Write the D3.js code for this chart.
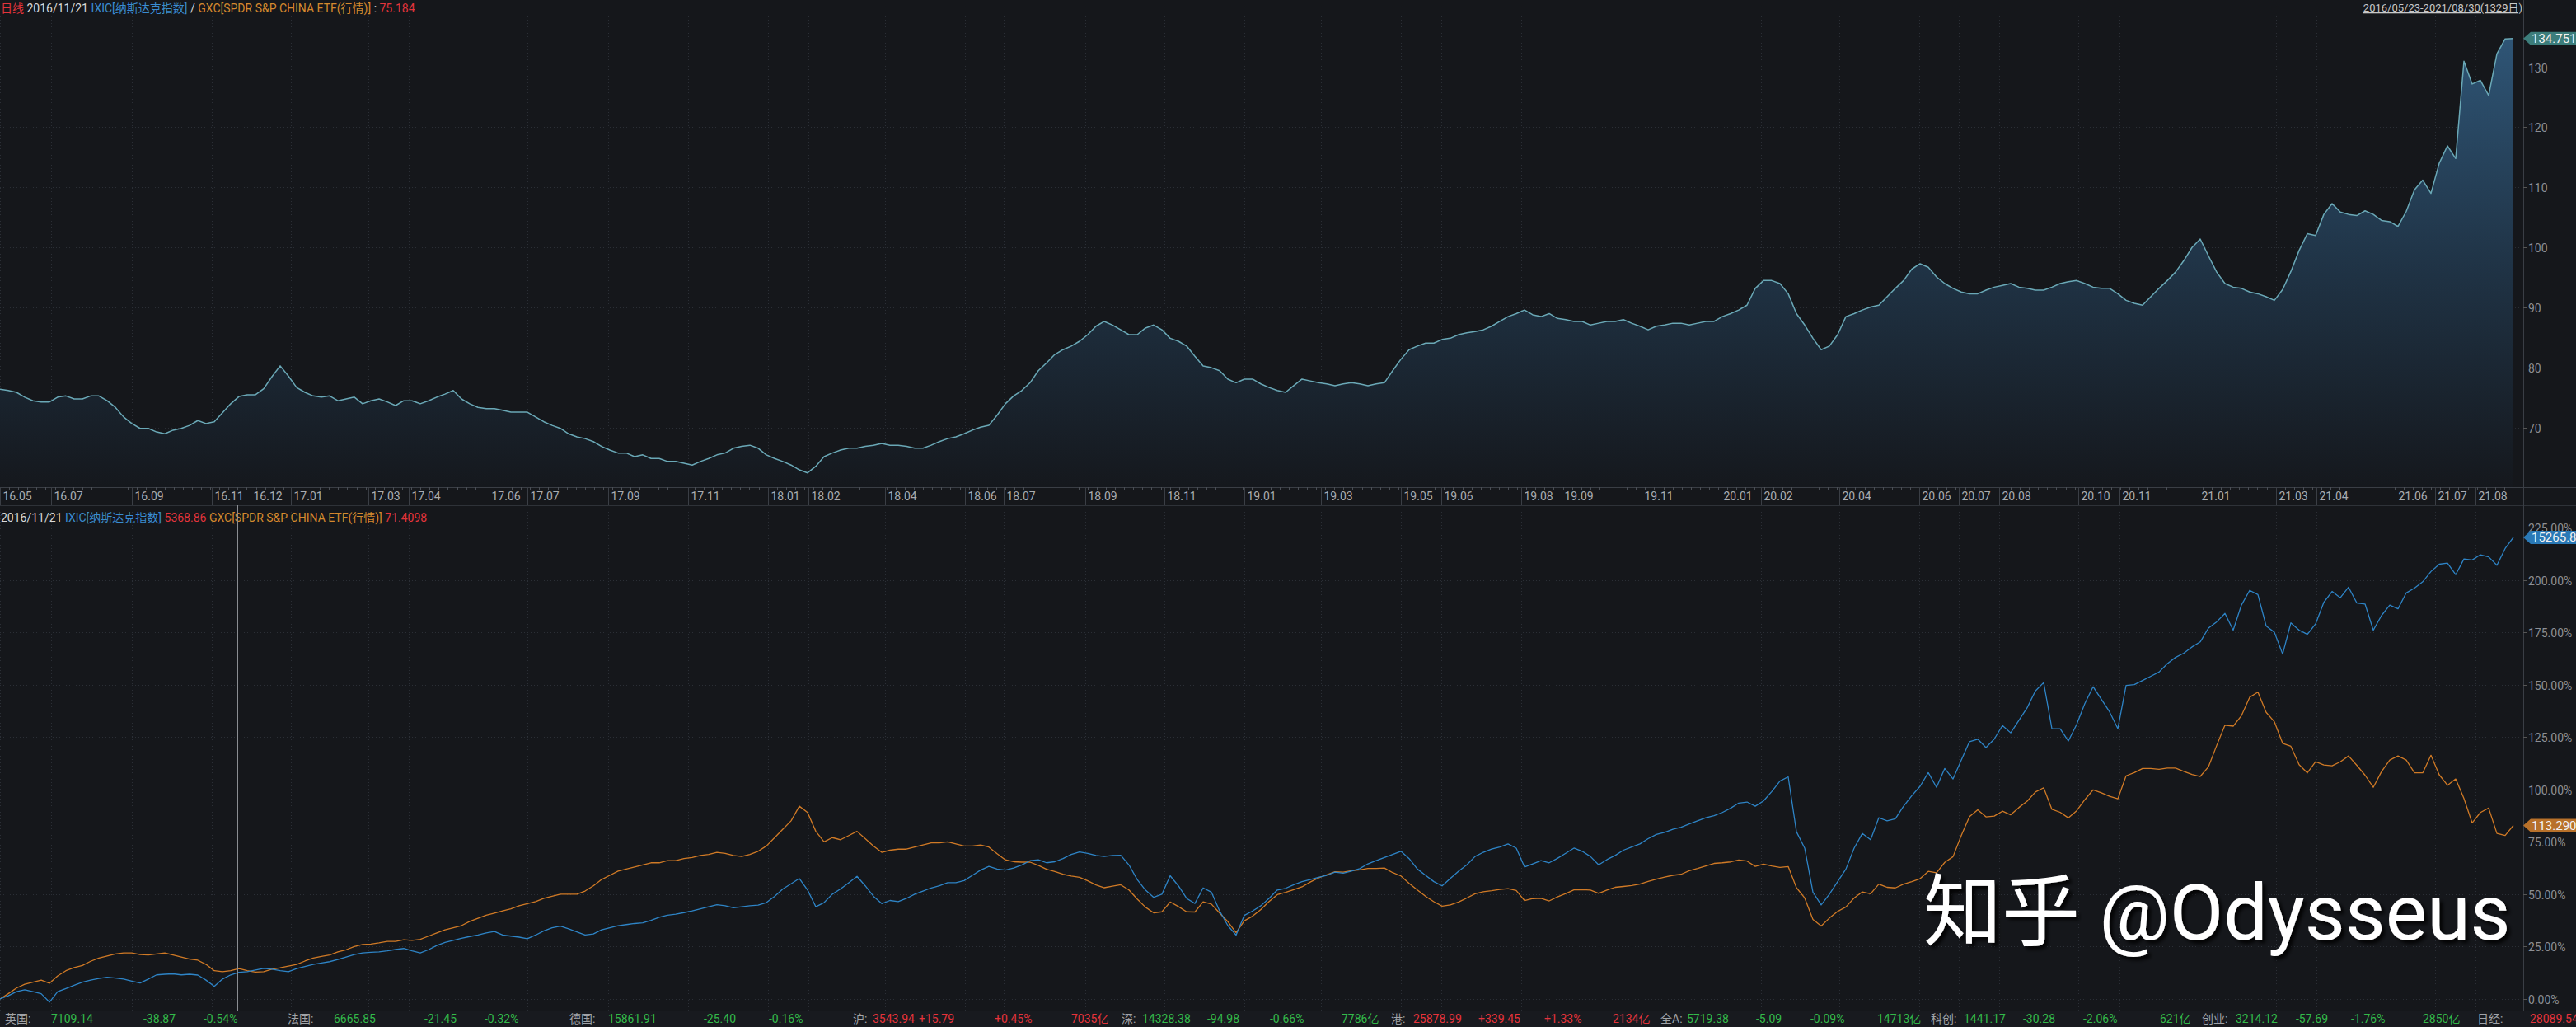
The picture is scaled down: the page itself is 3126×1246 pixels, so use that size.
<!DOCTYPE html>
<html><head><meta charset="utf-8">
<script src="https://cdn.jsdelivr.net/npm/d3@7"></script>
<style>
html,body{margin:0;padding:0;background:#15171b;overflow:hidden;}
svg{display:block;}
text{font-family:Roboto,"Noto Sans CJK SC",sans-serif;}
</style></head><body>
<svg id="chart" width="3126" height="1246"></svg>
<script>
// ---------------- DATA ----------------
const startDate = "2016-05-23";
const endDate = "2021-08-30";
const cursorDate = "2016-11-21";
const tickLabels = ["16.05","16.07","16.09","16.11","16.12","17.01","17.03","17.04","17.06","17.07","17.09","17.11",
  "18.01","18.02","18.04","18.06","18.07","18.09","18.11","19.01","19.03","19.05","19.06","19.08","19.09","19.11",
  "20.01","20.02","20.04","20.06","20.07","20.08","20.10","20.11","21.01","21.03","21.04","21.06","21.07","21.08"];
const topTicks = [70,80,90,100,110,120,130];
const bottomTicks = [0,25,50,75,100,125,150,175,200,225];

// IXIC / GXC ratio (evenly spaced samples from 2016/05/23 to 2021/08/30)
const ratioValues = [
76.4,76.2,75.9,75.1,74.5,74.3,74.3,75.1,75.3,74.8,
74.8,75.3,75.3,74.5,73.4,71.8,70.7,69.9,69.9,69.3,
69.0,69.6,69.9,70.4,71.2,70.7,71.0,72.5,74.0,75.2,
75.5,75.5,76.5,78.5,80.3,78.6,76.7,75.9,75.3,75.1,
75.3,74.5,74.8,75.1,74.0,74.5,74.8,74.3,73.7,74.5,
74.5,74.0,74.5,75.1,75.6,76.2,74.8,74.0,73.4,73.2,
73.2,72.9,72.6,72.6,72.6,71.8,71.0,70.4,69.9,69.0,
68.5,68.2,67.7,66.9,66.3,65.8,65.8,65.2,65.5,64.9,
64.9,64.4,64.4,64.1,63.8,64.4,64.9,65.5,65.8,66.6,
66.9,67.1,66.6,65.5,64.9,64.4,63.8,63.0,62.5,63.6,
65.2,65.8,66.3,66.6,66.6,66.9,67.1,67.4,67.1,67.1,
66.9,66.6,66.6,67.1,67.7,68.2,68.5,69.0,69.6,70.1,
70.4,72.1,74.0,75.3,76.2,77.5,79.5,80.8,82.2,83.0,
83.6,84.4,85.5,86.9,87.7,87.1,86.3,85.5,85.5,86.6,
87.1,86.3,84.9,84.4,83.6,81.9,80.3,80.0,79.5,78.1,
77.5,78.1,78.1,77.3,76.7,76.2,75.9,77.0,78.1,77.8,
77.5,77.3,77.0,77.3,77.5,77.3,77.0,77.3,77.5,79.5,
81.4,83.0,83.6,84.1,84.1,84.7,84.9,85.5,85.8,86.0,
86.3,86.9,87.7,88.5,89.0,89.6,88.8,88.5,89.0,88.2,
88.0,87.7,87.7,87.1,87.4,87.7,87.7,88.0,87.4,86.9,
86.3,86.9,87.1,87.4,87.4,87.1,87.4,87.7,87.7,88.5,
89.0,89.6,90.4,93.2,94.5,94.5,94.0,92.3,89.0,87.1,
84.9,83.0,83.6,85.5,88.5,89.0,89.6,90.1,90.4,91.8,
93.2,94.5,96.4,97.3,96.7,95.1,94.0,93.2,92.6,92.3,
92.3,92.9,93.4,93.7,94.0,93.4,93.2,92.9,92.9,93.4,
94.0,94.3,94.5,94.0,93.4,93.2,93.2,92.3,91.2,90.7,
90.4,91.8,93.2,94.5,95.9,97.8,100.0,101.4,98.6,95.9,
94.0,93.4,93.2,92.6,92.3,91.8,91.2,93.0,96.0,99.5,
102.3,102.0,105.5,107.3,105.9,105.5,105.3,106.1,105.5,104.5,
104.3,103.5,106.0,109.6,111.2,109.0,114.0,116.9,114.8,131.0,
127.2,127.8,125.3,132.2,134.7,134.751];

// IXIC cumulative % change
const ixicPct = [
0,1.5,3.5,4.4,3.5,2.5,-1.5,3.5,5.0,6.5,
8.0,9.0,9.8,10.4,10.0,9.5,8.5,7.6,9.5,11.5,
11.8,12.0,11.5,11.8,11.4,9.0,6.0,9.5,11.5,12.7,
13.0,13.8,14.6,14.2,13.5,13.0,14.5,15.5,16.5,17.2,
17.8,18.8,20.0,21.2,22.0,22.3,22.5,23.0,23.6,24.1,
23.0,22.0,23.5,25.5,27.0,28.0,29.0,29.8,30.5,31.5,
32.2,30.5,30.0,29.5,28.8,30.5,32.5,34.0,34.8,33.5,
32.0,30.5,31.0,33.0,34.0,35.0,35.5,36.0,36.3,37.5,
39.0,40.0,40.5,41.2,42.0,43.0,44.0,45.0,44.5,43.5,
44.0,44.5,44.8,46.0,49.0,52.5,55.0,57.5,52.0,44.0,
46.0,50.0,52.5,55.5,58.5,54.0,49.0,45.5,47.0,46.5,
48.0,50.0,51.5,53.0,54.0,55.5,55.5,56.5,59.0,61.5,
63.3,62.0,61.5,62.5,64.0,66.0,66.4,65.0,65.5,67.0,
69.0,70.2,69.5,68.5,68.0,68.5,68.6,64.0,57.0,52.0,
48.5,50.0,58.8,54.0,48.0,45.6,53.0,51.0,42.0,35.0,
30.5,39.9,42.0,44.5,48.0,52.0,52.8,54.5,56.0,57.0,
58.1,59.0,60.5,60.0,61.0,62.2,64.5,66.0,67.5,69.0,
70.5,67.0,62.0,59.0,56.0,54.0,57.5,61.0,64.0,68.0,
70.0,71.5,72.5,74.0,72.0,63.0,64.5,66.0,65.0,67.1,
69.5,72.0,70.5,68.0,64.0,66.5,68.5,71.0,72.5,74.0,
76.5,78.5,79.5,81.0,82.0,83.5,85.0,86.5,87.5,89.0,
91.0,93.5,94.0,92.0,94.5,99.0,104.0,106.0,79.8,72.0,
51.0,44.9,50.0,56.0,62.0,72.0,79.0,76.0,86.5,85.0,
86.0,92.0,97.0,101.5,108.0,101.0,110.0,105.0,114.0,122.8,
124.0,120.0,124.0,130.5,127.0,133.0,139.0,147.0,151.0,129.0,
129.0,123.1,131.0,141.0,149.0,143.0,137.0,129.0,149.6,150.0,
152.0,154.0,156.0,160.0,163.0,165.0,168.0,170.4,177.0,180.0,
184.0,176.0,188.0,195.0,193.0,178.0,175.0,164.6,179.5,176.0,
174.0,179.0,189.3,194.5,191.5,196.5,189.0,188.5,176.0,183.0,
188.0,186.2,193.8,196.1,199.1,204.0,207.5,208.0,202.5,210.0,
209.5,212.0,211.0,207.0,215.0,220.3];

// GXC cumulative % change
const gxcPct = [
0,2.5,5.2,7,8,9,7.5,11,13.5,15,
16,18,19.5,20.5,21.5,22,22,21.2,21,21.5,
22,21,20,19,18.5,16.5,13.5,13,13.5,14.5,
13.5,12.8,13,14.2,14.9,15.7,16.5,18.1,19.5,20.3,
21,22.5,23.5,25,26,26.2,26.8,27.5,27.5,28.3,
28,28.5,30,31.5,33,34,35,37,38.5,40,
41,42,43,44.5,45.5,46.5,48,49,50,50,
50,51.5,54,57,59,61,62,63,64,65,
65,66,66,67,67.5,68.5,69,70,69.5,68.5,
68,69,70.5,73,77,81,85,92,89,80,
75,77,76,78,80,76.5,73,70,71,71.5,
71.5,72.5,73.5,74.5,74.5,75,74,73,73,73.5,
72.5,69.3,66.4,65.5,65.3,65.3,63.8,61.9,60.8,59.5,
58.7,58.1,56.4,54.4,53.1,53.8,54.5,52,47.7,43.8,
41.1,41.6,46.3,44.1,41.6,41.5,46.4,45.3,41,36.9,
31.6,37.3,39.5,42.7,46.5,49.8,50.9,52.2,53.5,55.8,
57.8,59.3,60.7,60.5,61.2,61.6,62.3,62.3,62.5,60.3,
58.7,55.2,52,49,46.4,44.3,44.9,46.3,48.2,50.2,
51.2,51.7,52.3,52.7,51.8,47,47.9,48,46.8,48.7,
50.3,52.1,52.2,52,50.4,52,53.3,53.7,54.1,54.8,
56.1,57.2,58.2,59,59.5,61.2,62.3,63.5,64.7,65,
65.4,66.3,65.8,63.3,64.4,63.5,62.8,63.2,53.1,48.2,
38,34.8,38.6,41.8,43.9,48.2,51.1,50.2,54.8,53.3,
53,54.8,56,57.4,60.9,60.2,65.2,67.9,78,87,
90.3,86.9,87.3,89.6,87.9,91.4,94.4,98.8,100.8,90.5,
89.1,86.4,89.8,95.1,99.8,98.4,96.7,95.5,106.5,108,
110,110,109.6,110.2,110.2,108.6,107.1,106.2,110.8,121,
130.7,130.2,135.2,144,146.4,136.8,132.3,122,120.6,111.8,
107.9,113.2,111.7,111.3,113.2,116,111.5,106.8,101,108.5,
114,116,114,107.9,107.9,116.3,107,102,105,95.7,
84,89,91.1,79,78,82.8];

const lastRatioLabel = "134.751";
const lastIxicLabel = "15265.89";
const lastGxcLabel = "113.2900";

const topHeader = [["日线","#e2343c"],[" 2016/11/21 ","#d8d8d8"],["IXIC[纳斯达克指数]","#3a8cd0"],[" / ","#d8d8d8"],["GXC[SPDR S&P CHINA ETF(行情)]","#d4892e"],[" : ","#d8d8d8"],["75.184","#e2343c"]];
const bottomHeader = [["2016/11/21 ","#d8d8d8"],["IXIC[纳斯达克指数] ","#3a8cd0"],["5368.86 ","#e2343c"],["GXC[SPDR S&P CHINA ETF(行情)] ","#d4892e"],["71.4098","#e2343c"]];
const rangeText = "2016/05/23-2021/08/30(1329日)";

const tickerNames = ["英国:","法国:","德国:","沪:","深:","港:","全A:","科创:","创业:","日经:"];
const tickerPrices = ["7109.14","6665.85","15861.91","3543.94","14328.38","25878.99","5719.38","1441.17","3214.12","28089.54"];
const tickerChanges = ["-38.87","-21.45","-25.40","+15.79","-94.98","+339.45","-5.09","-30.28","-57.69",""];
const tickerPercents = ["-0.54%","-0.32%","-0.16%","+0.45%","-0.66%","+1.33%","-0.09%","-2.06%","-1.76%",""];
const tickerVolumes = ["","","","7035亿","7786亿","2134亿","14713亿","621亿","2850亿",""];

// ---------------- LAYOUT ----------------
const W = 3126, H = 1246;
const plotRight = 3062;
const dataRight = 3050;
const topPlot = {y0: 20, y1: 591};
const axisRow = {y0: 591, y1: 613};
const botPlot = {y0: 613, y1: 1226};
const GREEN = "#33b94a", RED = "#e5333b", GRAY = "#8c8f95";

const svg = d3.select("#chart");
svg.append("rect").attr("width", W).attr("height", H).attr("fill", "#15171b");

const parse = d3.timeParse("%Y-%m-%d");
const t0 = parse(startDate), t1 = parse(endDate);
const x = d3.scaleTime().domain([t0, t1]).range([0, dataRight]);
const n = ratioValues.length;
const dates = d3.range(n).map(i => new Date(+t0 + i * (t1 - t0) / (n - 1)));

const yTop = d3.scaleLinear().domain([70, 130]).range([519, 81.5]);
const yBot = d3.scaleLinear().domain([0, 225]).range([1212, 640]);

const tickDates = tickLabels.map(s => {
  const [yy, mm] = s.split(".").map(Number);
  const d = new Date(2000 + yy, mm - 1, 1);
  return d < t0 ? t0 : d;
});

// defs
const defs = svg.append("defs");
const grad = defs.append("linearGradient").attr("id", "areaGrad")
  .attr("gradientUnits", "userSpaceOnUse").attr("x1", 0).attr("x2", 0).attr("y1", topPlot.y0).attr("y2", topPlot.y1);
grad.append("stop").attr("offset", "0%").attr("stop-color", "#30587a");
grad.append("stop").attr("offset", "55%").attr("stop-color", "#1f3244");
grad.append("stop").attr("offset", "100%").attr("stop-color", "#15181d");
const sh = defs.append("filter").attr("id", "wmShadow").attr("x", "-5%").attr("y", "-20%").attr("width", "115%").attr("height", "150%");
sh.append("feDropShadow").attr("dx", 4).attr("dy", 4).attr("stdDeviation", 2).attr("flood-color", "#000").attr("flood-opacity", 0.85);

// ---------- grids ----------
const grid = svg.append("g").attr("stroke", "#2b2f36").attr("stroke-dasharray", "1,3").attr("stroke-width", 1);
tickDates.forEach(d => {
  const xx = Math.round(x(d)) + 0.5;
  grid.append("line").attr("x1", xx).attr("x2", xx).attr("y1", topPlot.y0).attr("y2", topPlot.y1);
  grid.append("line").attr("x1", xx).attr("x2", xx).attr("y1", botPlot.y0).attr("y2", botPlot.y1);
});
topTicks.forEach(v => {
  const yy = Math.round(yTop(v)) + 0.5;
  grid.append("line").attr("x1", 0).attr("x2", plotRight).attr("y1", yy).attr("y2", yy);
});
bottomTicks.forEach(v => {
  const yy = Math.round(yBot(v)) + 0.5;
  grid.append("line").attr("x1", 0).attr("x2", plotRight).attr("y1", yy).attr("y2", yy);
});

// ---------- top area ----------
const area = d3.area().x((d, i) => x(dates[i])).y0(topPlot.y1).y1(d => yTop(d));
const line = d3.line().x((d, i) => x(dates[i])).y(d => yTop(d));
svg.append("path").datum(ratioValues).attr("d", area).attr("fill", "url(#areaGrad)");
svg.append("path").datum(ratioValues).attr("d", line).attr("fill", "none").attr("stroke", "#6aa8b6").attr("stroke-width", 1.5).attr("stroke-linejoin", "round");

// ---------- bottom lines ----------
const lineB = d3.line().x((d, i) => x(dates[i])).y(d => yBot(d));
svg.append("path").datum(gxcPct).attr("d", lineB).attr("fill", "none").attr("stroke", "#d07a26").attr("stroke-width", 1.3).attr("stroke-linejoin", "round");
svg.append("path").datum(ixicPct).attr("d", lineB).attr("fill", "none").attr("stroke", "#2e84c6").attr("stroke-width", 1.3).attr("stroke-linejoin", "round");

// ---------- x axis row ----------
const ax = svg.append("g");
ax.append("line").attr("x1", 0).attr("x2", W).attr("y1", axisRow.y0 + 0.5).attr("y2", axisRow.y0 + 0.5).attr("stroke", "#3a3e45");
ax.append("line").attr("x1", 0).attr("x2", W).attr("y1", axisRow.y1 + 0.5).attr("y2", axisRow.y1 + 0.5).attr("stroke", "#2e3238");
const weeks = d3.timeMonday.range(t0, t1);
weeks.forEach(d => {
  const xx = Math.round(x(d)) + 0.5;
  ax.append("line").attr("x1", xx).attr("x2", xx).attr("y1", axisRow.y0).attr("y2", axisRow.y0 + 4).attr("stroke", "#4a4e55");
});
tickDates.forEach((d, i) => {
  const xx = Math.round(x(d)) + 0.5;
  ax.append("line").attr("x1", xx).attr("x2", xx).attr("y1", axisRow.y0).attr("y2", axisRow.y1).attr("stroke", "#3a3e45");
  ax.append("text").attr("x", xx + 3).attr("y", 607).attr("font-size", 14).attr("fill", "#a9acb1").text(tickLabels[i]);
});

// ---------- right axis ----------
const ra = svg.append("g");
ra.append("line").attr("x1", plotRight + 0.5).attr("x2", plotRight + 0.5).attr("y1", 0).attr("y2", botPlot.y1).attr("stroke", "#3a3e45");
topTicks.forEach(v => {
  const yy = Math.round(yTop(v)) + 0.5;
  ra.append("line").attr("x1", plotRight).attr("x2", plotRight + 5).attr("y1", yy).attr("y2", yy).attr("stroke", "#555");
  ra.append("text").attr("x", 3068).attr("y", yy + 5).attr("font-size", 14).attr("fill", GRAY).text(v);
});
bottomTicks.forEach(v => {
  const yy = Math.round(yBot(v)) + 0.5;
  ra.append("line").attr("x1", plotRight).attr("x2", plotRight + 5).attr("y1", yy).attr("y2", yy).attr("stroke", "#555");
  ra.append("text").attr("x", 3068).attr("y", yy + 5).attr("font-size", 14).attr("fill", GRAY).text(v.toFixed(2) + "%");
});

function priceTag(yv, label, color) {
  const g = svg.append("g");
  const yy = yv;
  g.append("path").attr("d", `M${plotRight},${yy} L${plotRight + 9},${yy - 8} L${W},${yy - 8} L${W},${yy + 8} L${plotRight + 9},${yy + 8} Z`).attr("fill", color);
  g.append("text").attr("x", plotRight + 10).attr("y", yy + 5.5).attr("font-size", 15).attr("fill", "#f2f2f2").text(label);
}
priceTag(yTop(ratioValues[n - 1]), lastRatioLabel, "#3c7d7b");
priceTag(yBot(ixicPct[n - 1]), lastIxicLabel, "#2a79b6");
priceTag(yBot(gxcPct[n - 1]), lastGxcLabel, "#b8712a");

// ---------- headers ----------
function header(parts, y) {
  const t = svg.append("text").attr("x", 1).attr("y", y).attr("font-size", 14).attr("xml:space", "preserve");
  parts.forEach(p => t.append("tspan").attr("fill", p[1]).text(p[0]));
}
header(topHeader, 15);
header(bottomHeader, 633);
svg.append("text").attr("x", 3061).attr("y", 14).attr("text-anchor", "end").attr("font-size", 13)
  .attr("fill", "#c8c8c8").attr("text-decoration", "underline").text(rangeText);

// cursor
const cx = Math.round(x(parse(cursorDate))) + 0.5;
svg.append("line").attr("x1", cx).attr("x2", cx).attr("y1", botPlot.y0).attr("y2", botPlot.y1).attr("stroke", "#8a8d92").attr("stroke-width", 1);

// ---------- ticker bar ----------
const tk = svg.append("g");
tk.append("rect").attr("x", 0).attr("y", botPlot.y1).attr("width", W).attr("height", H - botPlot.y1).attr("fill", "#181a1f");
tk.append("line").attr("x1", 0).attr("x2", W).attr("y1", botPlot.y1 + 0.5).attr("y2", botPlot.y1 + 0.5).attr("stroke", "#33373e");
const groupX = [6, 349, 691, 1035, 1361, 1688, 2015, 2343, 2672, 3006];
const priceOff = [56, 56, 47, 24, 25, 27, 32, 40, 41, 64];
const changeOff = [168, 166, 163, 80, 104, 106, 116, 112, 114, 0];
const pctOff = [241, 239, 242, 172, 180, 186, 182, 185, 181, 0];
const volOff = [0, 0, 0, 265, 267, 269, 263, 278, 268, 0];
const colorOf = s => (s.startsWith("+") ? RED : GREEN);
tickerNames.forEach((nm, i) => {
  const gx = groupX[i], ty = 1241;
  const up = tickerChanges[i] ? tickerChanges[i].startsWith("+") : true;
  tk.append("text").attr("x", gx).attr("y", ty).attr("font-size", 14).attr("fill", "#a0a3a8").text(nm);
  tk.append("text").attr("x", gx + priceOff[i]).attr("y", ty).attr("font-size", 14).attr("fill", up ? RED : GREEN).text(tickerPrices[i]);
  if (tickerChanges[i]) tk.append("text").attr("x", gx + changeOff[i]).attr("y", ty).attr("font-size", 14).attr("fill", colorOf(tickerChanges[i])).text(tickerChanges[i]);
  if (tickerPercents[i]) tk.append("text").attr("x", gx + pctOff[i]).attr("y", ty).attr("font-size", 14).attr("fill", colorOf(tickerPercents[i])).text(tickerPercents[i]);
  if (tickerVolumes[i]) tk.append("text").attr("x", gx + volOff[i]).attr("y", ty).attr("font-size", 14).attr("fill", up ? RED : GREEN).text(tickerVolumes[i]);
});

// ---------- watermark ----------
svg.append("text").attr("x", 2334).attr("y", 1140).attr("font-size", 95)
  .attr("font-family", "'Noto Sans CJK SC', sans-serif").attr("fill", "#ffffff").attr("filter", "url(#wmShadow)")
  .text("知乎 @Odysseus");
</script>
</body></html>
